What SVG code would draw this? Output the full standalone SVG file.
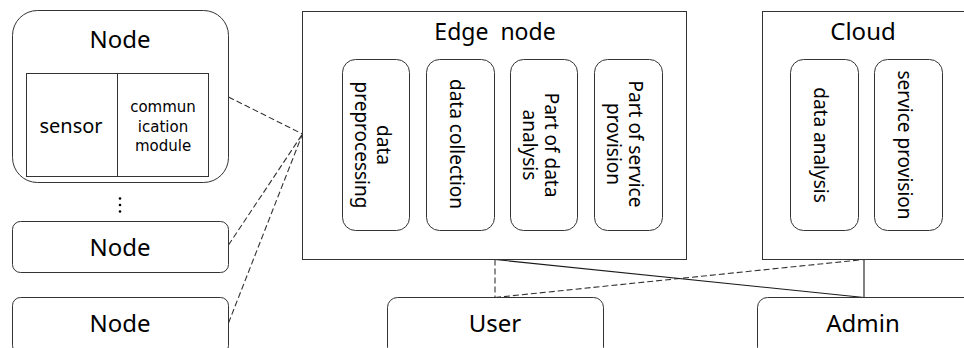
<svg xmlns="http://www.w3.org/2000/svg" width="964" height="348" viewBox="0 0 964 348">
<style>
.box{fill:#fff;stroke:#333;stroke-width:1}
.t{font-family:"Noto Sans","Open Sans",sans-serif;fill:#000;text-anchor:middle}
.title{font-size:24px}
.v{font-size:19px}
.dash{fill:none;stroke:#333;stroke-width:1.1;stroke-dasharray:6 3}
.solid{fill:none;stroke:#1a1a1a;stroke-width:1.1}
</style>
<rect width="964" height="348" fill="#fff"/>
<g id="connectors">
<line class="dash" x1="228.5" y1="97" x2="302.5" y2="134"/>
<line class="dash" x1="228.5" y1="245" x2="302.5" y2="134"/>
<line class="dash" x1="228.5" y1="323" x2="302.5" y2="134"/>
<line class="dash" x1="495" y1="259.5" x2="495" y2="297.5"/>
<line class="dash" x1="495" y1="297.5" x2="864" y2="259.5"/>
<line class="solid" x1="495" y1="259.5" x2="864" y2="297.5"/>
<line class="solid" x1="864" y1="259.5" x2="864" y2="297.5"/>
</g>
<g id="node1">
<rect class="box" x="12.5" y="10.5" width="216" height="172" rx="25"/>
<text class="t title" x="120" y="48">Node</text>
<rect class="box" x="26.5" y="73.5" width="182" height="103"/>
<line x1="117.5" y1="73.5" x2="117.5" y2="176.5" stroke="#333"/>
<text class="t" style="font-size:20px" x="71" y="133">sensor</text>
<text class="t" style="font-size:15px;font-family:'DejaVu Sans',sans-serif" x="163" y="112">commun<tspan x="163" dy="19.5">ication</tspan><tspan x="163" dy="19.5">module</tspan></text>
</g>
<g id="ellipsis">
<circle cx="120" cy="198.5" r="1.3" fill="#000"/>
<circle cx="120" cy="205" r="1.3" fill="#000"/>
<circle cx="120" cy="211.5" r="1.3" fill="#000"/>
</g>
<g id="node2">
<rect class="box" x="12.5" y="221.5" width="216" height="51" rx="8"/>
<text class="t title" x="120" y="256">Node</text>
</g>
<g id="node3">
<rect class="box" x="12.5" y="297.5" width="216" height="56" rx="8"/>
<text class="t title" x="120" y="332">Node</text>
</g>
<g id="edge-node">
<rect class="box" x="302.5" y="11.5" width="384" height="248"/>
<text class="t" style="font-size:23px;word-spacing:6px" x="495" y="40">Edge node</text>
<g id="data-preprocessing">
<rect class="box" x="342.5" y="59.5" width="67" height="171" rx="13"/>
<text class="t v" transform="rotate(90 376 145)" x="376" y="144.5">data<tspan x="376" dy="22">preprocessing</tspan></text>
</g>
<g id="data-collection">
<rect class="box" x="426.5" y="59.5" width="68" height="171" rx="13"/>
<text class="t v" transform="rotate(90 460.5 144)" x="460.5" y="154.5">data collection</text>
</g>
<g id="part-data-analysis">
<rect class="box" x="510.5" y="59.5" width="67" height="171" rx="13"/>
<text class="t v" transform="rotate(90 544 145)" x="544" y="144.5">Part of data<tspan x="544" dy="22">analysis</tspan></text>
</g>
<g id="part-service-provision">
<rect class="box" x="594.5" y="59.5" width="68" height="171" rx="13"/>
<text class="t v" transform="rotate(90 628.5 144)" x="628.5" y="143.5">Part of service<tspan x="628.5" dy="22">provision</tspan></text>
</g>
</g>
<g id="cloud">
<rect class="box" x="762.5" y="11.5" width="220" height="248"/>
<text class="t title" x="863" y="40">Cloud</text>
<g id="data-analysis">
<rect class="box" x="790.5" y="59.5" width="68" height="171" rx="13"/>
<text class="t v" transform="rotate(90 824.5 145)" x="824.5" y="155.5">data analysis</text>
</g>
<g id="service-provision">
<rect class="box" x="874.5" y="59.5" width="68" height="171" rx="13"/>
<text class="t v" transform="rotate(90 908.5 145)" x="908.5" y="155.5">service provision</text>
</g>
</g>
<g id="user">
<rect class="box" x="387.5" y="297.5" width="216" height="60" rx="10"/>
<text class="t title" x="495" y="332">User</text>
</g>
<g id="admin">
<rect class="box" x="757.5" y="297.5" width="220" height="60" rx="10"/>
<text class="t title" x="863" y="332">Admin</text>
</g>
</svg>
